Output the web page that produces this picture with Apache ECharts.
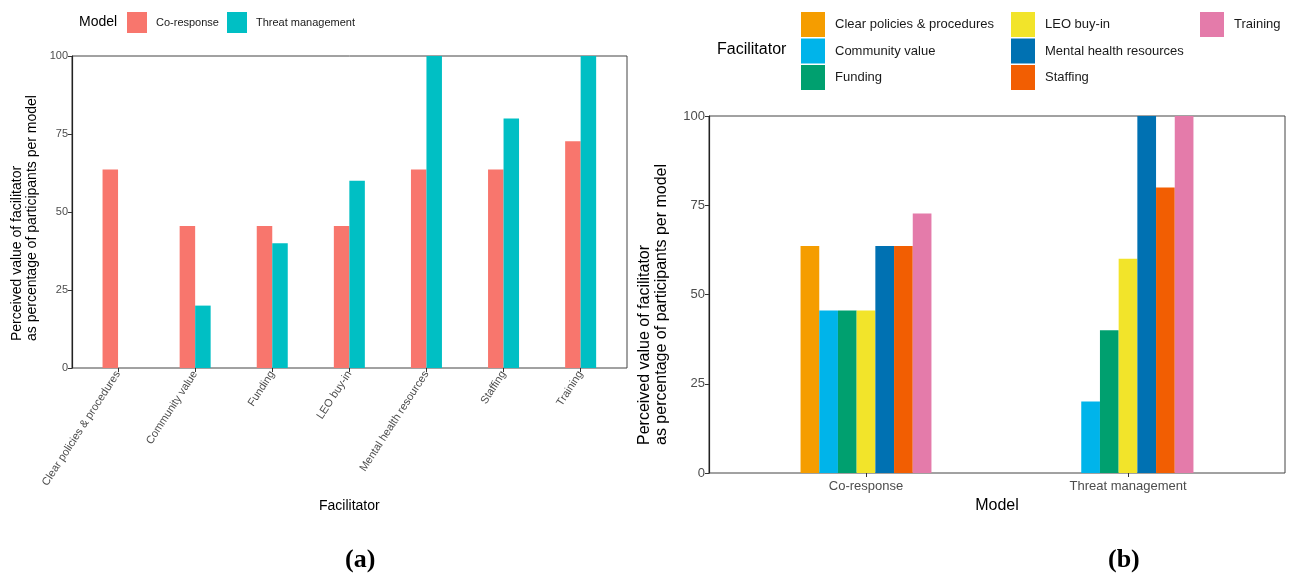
<!DOCTYPE html>
<html><head><meta charset="utf-8">
<script src="https://cdn.jsdelivr.net/npm/echarts@6/dist/echarts.min.js"></script>
<style>html,body{margin:0;padding:0;background:#fff}#c{width:1294px;height:584px}</style>
</head><body><div id="c"></div>
<script>
const facilitators = ['Clear policies & procedures','Community value','Funding','LEO buy-in','Mental health resources','Staffing','Training'];
const models = ['Co-response','Threat management'];
const coResponse = [63.6, 45.5, 45.5, 45.5, 63.6, 63.6, 72.7];
const threatManagement = [0, 20, 40, 60, 100, 80, 100];
const yMin = 0, yMax = 100, yInterval = 25;
const modelColors = ['#F8766D', '#00BFC4'];
const facilitatorColors = ['#F59D00','#00B4EA','#00A06F','#F2E42A','#0071B2','#F25E02','#E47BAA'];

const F = 'Liberation Sans, Arial, sans-serif';
const LBL = '#4D4D4D';
const chart = echarts.init(document.getElementById('c'), null, {renderer:'canvas'});

const valueAxis = (gi, show, fs) => ({
  type:'value', gridIndex:gi, min:yMin, max:yMax, interval:yInterval, show:show,
  axisLine:{show:true, lineStyle:{color:'#222', width:1.2}},
  axisTick:{show:true, length:4, lineStyle:{color:'#333'}},
  axisLabel:{fontSize:fs, color:LBL, fontFamily:F, margin:4},
  splitLine:{show:false}
});

const seriesA = [coResponse, threatManagement].map((d, i) => ({
  type:'bar', name:models[i], xAxisIndex:1, yAxisIndex:1, data:d,
  barWidth:15.5, barGap:'0%', itemStyle:{color:modelColors[i]}, z:3
}));
const seriesB = facilitators.map((f, i) => ({
  type:'bar', name:f, xAxisIndex:3, yAxisIndex:3, data:[coResponse[i], threatManagement[i]],
  barWidth:18.7, barGap:'0%', itemStyle:{color:facilitatorColors[i]}, z:3
}));

const legendBase = {selectedMode:false, padding:0, icon:'rect', orient:'vertical',
  itemWidth:24, itemHeight:25, itemGap:1.5, top:12,
  textStyle:{fontSize:13, color:'#1a1a1a', fontFamily:F, padding:[0,0,0,5]}};

chart.setOption({
  animation:false,
  backgroundColor:'#fff',
  grid:[
    {left:72, top:56, width:555, height:312, show:true, borderColor:'#444', borderWidth:1, backgroundColor:'transparent', outerBoundsMode:'none', containLabel:false},
    {left:79.5, top:56, width:539.7, height:312, outerBoundsMode:'none', containLabel:false},
    {left:709, top:116, width:576, height:357, show:true, borderColor:'#444', borderWidth:1, backgroundColor:'transparent', outerBoundsMode:'none', containLabel:false},
    {left:735, top:116, width:524, height:357, outerBoundsMode:'none', containLabel:false}
  ],
  xAxis:[
    {type:'value', gridIndex:0, show:false, min:0, max:1},
    {type:'category', gridIndex:1, data:facilitators,
     axisLine:{show:false}, axisTick:{show:true, alignWithLabel:true, length:4, lineStyle:{color:'#333'}},
     axisLabel:{rotate:57, fontSize:11, color:LBL, fontFamily:F, margin:4, interval:0},
     name:'Facilitator', nameLocation:'middle', nameGap:131,
     nameTextStyle:{fontSize:14, color:'#000', fontFamily:F}},
    {type:'value', gridIndex:2, show:false, min:0, max:1},
    {type:'category', gridIndex:3, data:models,
     axisLine:{show:false}, axisTick:{show:true, alignWithLabel:true, length:4, lineStyle:{color:'#333'}},
     axisLabel:{fontSize:13, color:LBL, fontFamily:F, margin:7, interval:0},
     name:'Model', nameLocation:'middle', nameGap:23,
     nameTextStyle:{fontSize:16, color:'#000', fontFamily:F}}
  ],
  yAxis:[
    valueAxis(0, true, 11),
    valueAxis(1, false, 11),
    valueAxis(2, true, 13),
    valueAxis(3, false, 13)
  ],
  legend:[
    Object.assign({}, legendBase, {orient:'horizontal', left:127, top:12, itemWidth:20, itemHeight:21, itemGap:8,
      textStyle:{fontSize:11, color:'#1a1a1a', fontFamily:F, padding:[0,0,0,4]}, data:models}),
    Object.assign({}, legendBase, {left:801, data:facilitators.slice(0,3)}),
    Object.assign({}, legendBase, {left:1011, data:facilitators.slice(3,6)}),
    Object.assign({}, legendBase, {left:1200, data:facilitators.slice(6)})
  ],
  title:[
    {text:'Model', left:79, top:15, padding:0, textStyle:{fontSize:14, fontWeight:'normal', color:'#000', fontFamily:F}},
    {text:'Facilitator', left:717, top:42, padding:0, textStyle:{fontSize:16, fontWeight:'normal', color:'#000', fontFamily:F}},
    {text:'{p|(}{b|a}{p|)}', left:345, top:547, padding:0,
     textStyle:{rich:{p:{fontSize:26, fontFamily:'Liberation Serif, serif', color:'#000'}, b:{fontSize:26, fontWeight:'bold', fontFamily:'Liberation Serif, serif', color:'#000'}}}},
    {text:'{p|(}{b|b}{p|)}', left:1108, top:547, padding:0,
     textStyle:{rich:{p:{fontSize:26, fontFamily:'Liberation Serif, serif', color:'#000'}, b:{fontSize:26, fontWeight:'bold', fontFamily:'Liberation Serif, serif', color:'#000'}}}}
  ],
  graphic:[
    {type:'text', x:24.5, y:341, rotation:Math.PI/2,
     style:{text:'Perceived value of facilitator\nas percentage of participants per model', fontSize:14, fontFamily:F, fill:'#000', align:'left', verticalAlign:'middle', lineHeight:15}},
    {type:'text', x:653.5, y:445, rotation:Math.PI/2,
     style:{text:'Perceived value of facilitator\nas percentage of participants per model', fontSize:16, fontFamily:F, fill:'#000', align:'left', verticalAlign:'middle', lineHeight:17}}
  ],
  series: seriesA.concat(seriesB)
});
</script>
</body></html>
